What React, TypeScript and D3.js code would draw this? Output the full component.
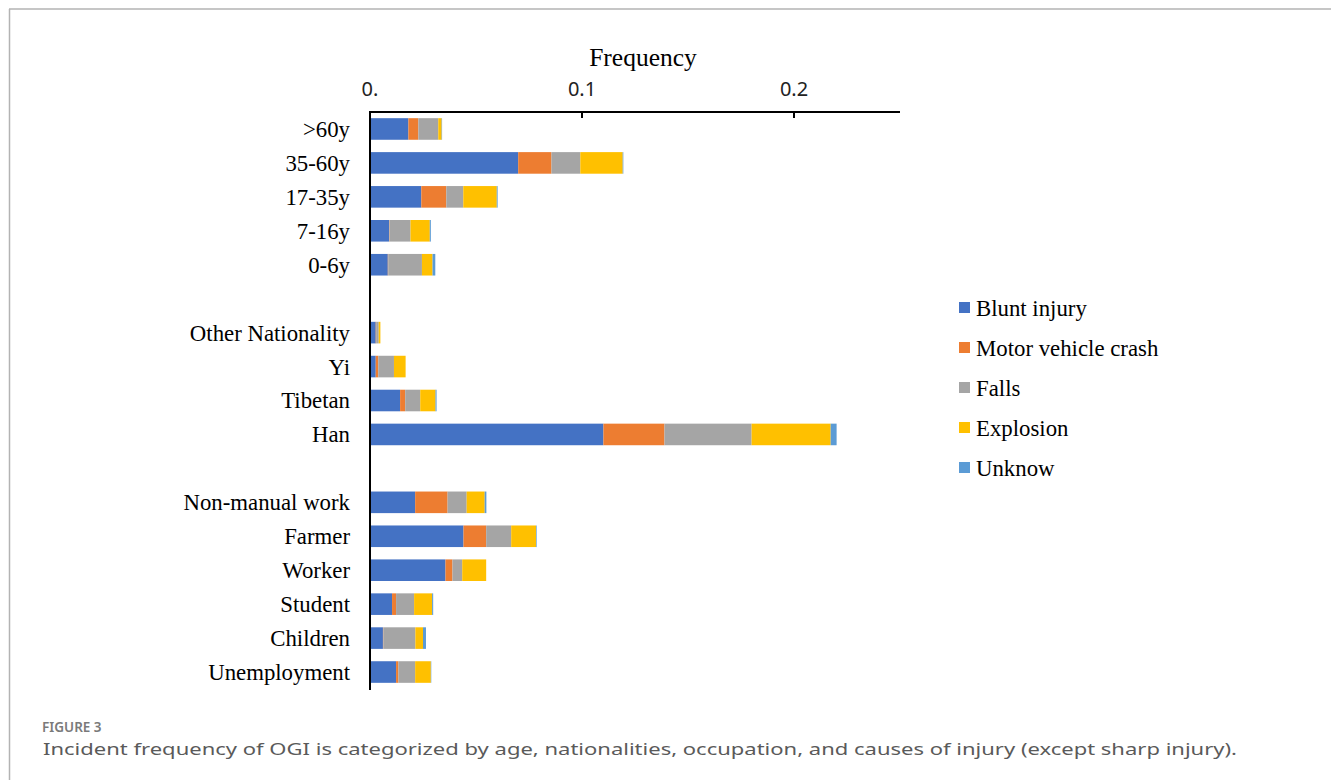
import React from "react";
import * as d3 from "d3";

// Row labels, top to bottom; empty keys separate the age, nationality and occupation groups
const categories = [
  ">60y", "35-60y", "17-35y", "7-16y", "0-6y",
  "",
  "Other Nationality", "Yi", "Tibetan", "Han",
  " ",
  "Non-manual work", "Farmer", "Worker", "Student", "Children", "Unemployment",
];

const seriesNames = ["Blunt injury", "Motor vehicle crash", "Falls", "Explosion", "Unknow"];
const seriesColors = ["#4472C4", "#ED7D31", "#A5A5A5", "#FFC000", "#5B9BD5"];

// Frequencies per cause, in the order of `categories` (blank rows are zero)
const blunt = [0.0181, 0.0699, 0.0242, 0.009, 0.0084, 0, 0.0027, 0.0027, 0.0142, 0.1101, 0, 0.0213, 0.0441, 0.0356, 0.0104, 0.0061, 0.0123];
const motor = [0.0047, 0.0157, 0.0118, 0.0002, 0.0002, 0, 0.0002, 0.0012, 0.0024, 0.0288, 0, 0.0153, 0.0107, 0.0033, 0.0019, 0.0002, 0.0011];
const falls = [0.0094, 0.0136, 0.008, 0.0099, 0.0159, 0, 0.0012, 0.0074, 0.0071, 0.0411, 0, 0.009, 0.0118, 0.0046, 0.0085, 0.0151, 0.0079];
const explosion = [0.0016, 0.02, 0.0158, 0.0091, 0.005, 0, 0.0008, 0.0055, 0.0072, 0.0373, 0, 0.0085, 0.0117, 0.0113, 0.0085, 0.0036, 0.0074];
const unknow = [0.0002, 0.0003, 0.0004, 0.0005, 0.0013, 0, 0, 0, 0.0005, 0.0028, 0, 0.0008, 0.0003, 0, 0.0005, 0.0014, 0.0002];

const tickValues = [0, 0.1, 0.2];

const W = 1331;
const H = 780;
const serif = "'Liberation Serif', 'Times New Roman', serif";
const sans = "'Noto Sans', 'Open Sans', sans-serif";

export default function App() {
  const cols = [blunt, motor, falls, explosion, unknow];
  const rows = categories.map((c, i) => {
    const r: Record<string, number | string> = { cat: c };
    seriesNames.forEach((s, j) => (r[s] = cols[j][i]));
    return r;
  });
  const stacked = d3.stack<any>().keys(seriesNames)(rows as any);

  const x = d3.scaleLinear().domain([0, 0.25]).range([370, 900]);
  const y = d3
    .scaleBand<string>()
    .domain(categories)
    .range([112, 689])
    .paddingInner(0.364)
    .paddingOuter(0.182);

  const fmt = (v: number) => (v === 0 ? "0." : d3.format(".1f")(v));

  return (
    <svg
      width={W}
      height={H}
      style={{ position: "absolute", left: 0, top: 0, background: "#fff" }}
    >
      {/* page frame */}
      <line x1={9} x2={W} y1={9} y2={9} stroke="#b3b3b3" strokeWidth={1.5} />
      <line x1={9.5} x2={9.5} y1={9} y2={H} stroke="#b3b3b3" strokeWidth={1.5} />

      {/* stacked bars */}
      {stacked.map((layer, si) => (
        <g key={seriesNames[si]} fill={seriesColors[si]}>
          {layer.map((d, i) =>
            d[1] - d[0] > 0 ? (
              <rect
                key={i}
                x={x(d[0])}
                y={y(categories[i])}
                width={x(d[1]) - x(d[0])}
                height={y.bandwidth()}
              />
            ) : null
          )}
        </g>
      ))}

      {/* top axis */}
      <line x1={369} x2={x(0.25)} y1={112} y2={112} stroke="#000" strokeWidth={2} />
      {tickValues.map((t) => (
        <g key={t}>
          {t > 0 && <line x1={x(t)} x2={x(t)} y1={112} y2={118} stroke="#000" strokeWidth={2} />}
          <text
            x={x(t)}
            y={96}
            textAnchor="middle"
            fontFamily={sans}
            fontSize={20}
            fill="#222"
          >
            {fmt(t)}
          </text>
        </g>
      ))}
      <text x={643} y={66} textAnchor="middle" fontFamily={serif} fontSize={25.5} fill="#000">
        Frequency
      </text>

      {/* left axis */}
      <line x1={370} x2={370} y1={111} y2={690} stroke="#000" strokeWidth={2} />
      {categories.map((c) =>
        c.trim() ? (
          <text
            key={c}
            x={350}
            y={(y(c) as number) + y.bandwidth() / 2}
            dy="0.35em"
            textAnchor="end"
            fontFamily={serif}
            fontSize={22.8}
            fill="#000"
          >
            {c}
          </text>
        ) : null
      )}

      {/* legend */}
      {seriesNames.map((s, i) => (
        <g key={s} transform={`translate(959, ${308 + i * 40})`}>
          <rect x={0} y={-6} width={11} height={11} fill={seriesColors[i]} />
          <text x={17} y={0} dy="0.35em" fontFamily={serif} fontSize={22.8} fill="#000">
            {s}
          </text>
        </g>
      ))}

      {/* caption */}
      <text x={42} y={731.5} fontFamily={sans} fontSize={13.5} fontWeight={600} fill="#7a7a7a">
        FIGURE 3
      </text>
      <text
        x={43}
        y={755}
        fontFamily={sans}
        fontSize={16.5}
        fill="#5a5a5a"
        textLength={1194}
        lengthAdjust="spacingAndGlyphs"
      >
        Incident frequency of OGI is categorized by age, nationalities, occupation, and causes of injury (except sharp injury).
      </text>
    </svg>
  );
}
